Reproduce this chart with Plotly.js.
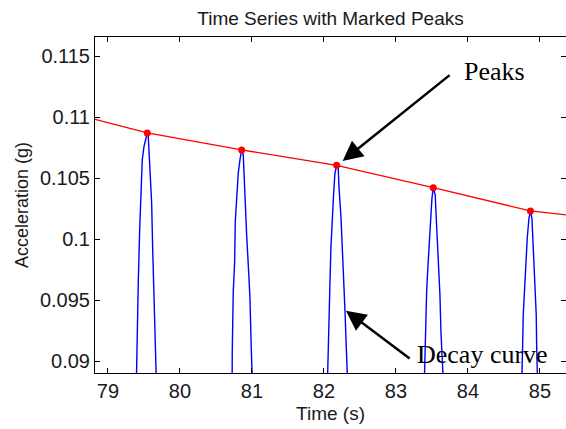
<!DOCTYPE html>
<html>
<head>
<meta charset="utf-8">
<script src="https://cdn.plot.ly/plotly-3.0.1.min.js"></script>
<style>html,body{margin:0;padding:0;background:#fff;}#chart{width:566px;height:429px;}</style>
</head>
<body>
<div id="chart"></div>
<script>
// Measured acceleration signal (only the tops of the oscillations are visible); null separates peaks
var sigTime = [
  79.3958, 79.4028, 79.4208, 79.4403, 79.4583, 79.4764, 79.5000, 79.5278, 79.5458, 79.5597, 79.5694, 79.5972, 79.6069, 79.6208, 79.6389, 79.6625, 79.6708, null,
  80.7250, 80.7264, 80.7403, 80.7597, 80.7681, 80.7875, 80.8097, 80.8333, 80.8569, 80.8792, 80.8889, 80.9069, 80.9264, 80.9542, 80.9722, 80.9903, 81.0042, null,
  82.0500, 82.0556, 82.0694, 82.0833, 82.0972, 82.1153, 82.1347, 82.1528, 82.1764, 82.1986, 82.2083, 82.2361, 82.2542, 82.2736, 82.2917, 82.3097, 82.3264, null,
  83.3958, 83.3986, 83.4167, 83.4264, 83.4403, 83.4542, 83.4819, 83.5000, 83.5181, 83.5458, 83.5556, 83.5736, 83.5931, 83.6111, 83.6250, 83.6486, 83.6556, null,
  84.7472, 84.7500, 84.7597, 84.7681, 84.7875, 84.8056, 84.8236, 84.8472, 84.8681, 84.8889, 84.8986, 84.9167, 84.9347, 84.9486, 84.9542, 84.9625, 84.9653
];
var sigAccel = [
  0.08861, 0.09115, 0.09639, 0.10074, 0.10418, 0.10648, 0.10757, 0.10836, 0.10869, 0.10839, 0.10705, 0.10426, 0.10295, 0.09926, 0.09475, 0.08984, 0.08861, null,
  0.08861, 0.09076, 0.09568, 0.09814, 0.10142, 0.10334, 0.10539, 0.10648, 0.10730, 0.10689, 0.10525, 0.10306, 0.10033, 0.09732, 0.09514, 0.09104, 0.08861, null,
  0.08861, 0.09035, 0.09336, 0.09637, 0.09937, 0.10183, 0.10375, 0.10539, 0.10604, 0.10580, 0.10429, 0.10183, 0.09965, 0.09746, 0.09418, 0.09117, 0.08861, null,
  0.08861, 0.08943, 0.09240, 0.09568, 0.09732, 0.09896, 0.10170, 0.10334, 0.10421, 0.10361, 0.10224, 0.10033, 0.09787, 0.09541, 0.09240, 0.08943, 0.08861, null,
  0.08861, 0.08885, 0.09131, 0.09377, 0.09596, 0.09814, 0.10006, 0.10170, 0.10230, 0.10170, 0.10060, 0.09814, 0.09596, 0.09377, 0.09131, 0.08885, 0.08861
];

// Detected peaks
var peakTime  = [79.5458, 80.8569, 82.1764, 83.5181, 84.8681];
var peakAccel = [0.10869, 0.10730, 0.10604, 0.10421, 0.10230];

// Envelope line through the peaks
var decayTime  = [78.82, 79.5458, 80.8569, 82.1764, 83.5181, 84.8681, 85.362];
var decayAccel = [0.10981, 0.10869, 0.10730, 0.10604, 0.10421, 0.10230, 0.10197];

// Axis ticks
var xTicks = [79, 80, 81, 82, 83, 84, 85];
var xTickLabels = ['79', '80', '81', '82', '83', '84', '85'];
var yTicks = [0.09, 0.095, 0.1, 0.105, 0.11, 0.115];
var yTickLabels = ['0.09', '0.095', '0.1', '0.105', '0.11', '0.115'];

// Annotation labels and anchor points (data units)
var peaksLabel = 'Peaks';
var peaksLabelPos = [84.37, 0.11369];
var peaksArrowTail = [83.7875, 0.11363];
var peaksArrowTip = [82.2597, 0.10639];
var decayLabel = 'Decay curve';
var decayLabelPos = [84.20, 0.09057];
var decayArrowTail = [83.2319, 0.09003];
var decayArrowTip = [82.3056, 0.09412];

var sans = 'Liberation Sans, Arial, sans-serif';
var serif = 'Liberation Serif, Times New Roman, serif';

var traces = [
  {x: sigTime, y: sigAccel, type: 'scatter', mode: 'lines', connectgaps: false,
   line: {color: '#0000ff', width: 1.4}, hoverinfo: 'skip'},
  {x: decayTime, y: decayAccel, type: 'scatter', mode: 'lines',
   line: {color: '#ff0000', width: 1.3}},
  {x: peakTime, y: peakAccel, type: 'scatter', mode: 'markers',
   marker: {color: '#ff0000', size: 7}}
];

var layout = {
  width: 566, height: 429,
  margin: {l: 95, r: 0, t: 37, b: 56},
  paper_bgcolor: '#ffffff', plot_bgcolor: '#ffffff',
  showlegend: false,
  title: {text: 'Time Series with Marked Peaks', font: {family: sans, size: 19, color: '#1a1a1a'},
          x: 0.5, xref: 'paper', y: 0.958, yref: 'container', yanchor: 'middle'},
  xaxis: {
    range: [78.82, 85.362], tickvals: xTicks, ticktext: xTickLabels,
    ticks: 'inside', ticklen: 5, tickcolor: '#000', mirror: 'ticks',
    showline: true, linecolor: '#000', linewidth: 1,
    showgrid: false, zeroline: false,
    tickfont: {family: sans, size: 20, color: '#1a1a1a'},
    title: {text: 'Time (s)', font: {family: sans, size: 19, color: '#1a1a1a'}, standoff: 5}
  },
  yaxis: {
    range: [0.089016, 0.116557], tickvals: yTicks, ticktext: yTickLabels,
    ticks: 'inside', ticklen: 5, tickcolor: '#000', mirror: 'ticks',
    showline: true, linecolor: '#000', linewidth: 1,
    showgrid: false, zeroline: false,
    tickfont: {family: sans, size: 20, color: '#1a1a1a'},
    title: {text: 'Acceleration (g)', font: {family: sans, size: 18, color: '#1a1a1a'}, standoff: 6}
  },
  annotations: [
    {x: peaksArrowTip[0], y: peaksArrowTip[1], xref: 'x', yref: 'y',
     ax: peaksArrowTail[0], ay: peaksArrowTail[1], axref: 'x', ayref: 'y',
     text: ' ', showarrow: true, arrowhead: 2, arrowsize: 1.6, arrowwidth: 2.5,
     arrowcolor: '#000', standoff: 0, startstandoff: 0},
    {x: peaksLabelPos[0], y: peaksLabelPos[1], xref: 'x', yref: 'y', text: peaksLabel, showarrow: false,
     font: {family: serif, size: 26, color: '#000'}, xanchor: 'center', yanchor: 'middle'},
    {x: decayArrowTip[0], y: decayArrowTip[1], xref: 'x', yref: 'y',
     ax: decayArrowTail[0], ay: decayArrowTail[1], axref: 'x', ayref: 'y',
     text: ' ', showarrow: true, arrowhead: 2, arrowsize: 1.6, arrowwidth: 2.5,
     arrowcolor: '#000', standoff: 0, startstandoff: 0},
    {x: decayLabelPos[0], y: decayLabelPos[1], xref: 'x', yref: 'y', text: decayLabel, showarrow: false,
     font: {family: serif, size: 26, color: '#000'}, xanchor: 'center', yanchor: 'middle'}
  ]
};

Plotly.newPlot('chart', traces, layout, {staticPlot: true, displayModeBar: false});
</script>
</body>
</html>
